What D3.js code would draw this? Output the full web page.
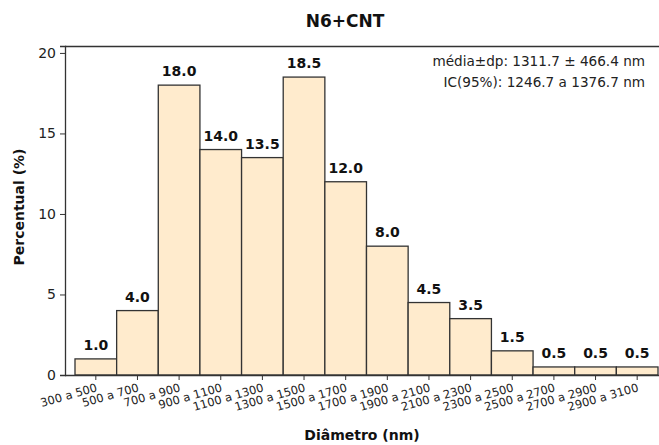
<!DOCTYPE html>
<html>
<head>
<meta charset="utf-8">
<script src="https://cdn.jsdelivr.net/npm/d3@7"></script>
<style>
  html, body { margin: 0; padding: 0; background: #fff; }
  svg { display: block; font-family: Tahoma, "DejaVu Sans", Verdana, sans-serif; }
</style>
</head>
<body>
<svg id="chart" width="659" height="445"></svg>
<script>
// Diameter classes (nm) and share of fibres in each class (%)
const categories = ["300 a 500", "500 a 700", "700 a 900", "900 a 1100", "1100 a 1300",
  "1300 a 1500", "1500 a 1700", "1700 a 1900", "1900 a 2100", "2100 a 2300",
  "2300 a 2500", "2500 a 2700", "2700 a 2900", "2900 a 3100"];
const percentages = [1.0, 4.0, 18.0, 14.0, 13.5, 18.5, 12.0, 8.0, 4.5, 3.5, 1.5, 0.5, 0.5, 0.5];
const yTicks = [0, 5, 10, 15, 20];
const statsLines = ["média±dp: 1311.7 ± 466.4 nm", "IC(95%): 1246.7 a 1376.7 nm"];

const svg = d3.select("#chart");
const plot = { left: 65, right: 659, top: 46, bottom: 375 };
const FONT = "Tahoma, 'DejaVu Sans', Verdana, sans-serif";

const x = d3.scaleBand().domain(categories).range([75, 658]).padding(0);
const y = d3.scaleLinear().domain([0, 20.43]).range([plot.bottom, plot.top]);

// Title
svg.append("text")
  .attr("x", 345).attr("y", 27)
  .attr("text-anchor", "middle")
  .attr("font-size", 17).attr("font-weight", "bold").attr("fill", "#111")
  .text("N6+CNT");

// Bars
svg.append("g").selectAll("rect")
  .data(percentages)
  .join("rect")
  .attr("x", (d, i) => x(categories[i]))
  .attr("y", d => y(d))
  .attr("width", x.bandwidth())
  .attr("height", d => y(0) - y(d))
  .attr("fill", "#FFEBCD")
  .attr("stroke", "#333")
  .attr("stroke-width", 1.3);

// Value labels
svg.append("g").selectAll("text")
  .data(percentages)
  .join("text")
  .attr("x", (d, i) => x(categories[i]) + x.bandwidth() / 2)
  .attr("y", d => y(d) - 9)
  .attr("text-anchor", "middle")
  .attr("font-size", 14).attr("font-weight", "bold").attr("fill", "#111")
  .text(d => d.toFixed(1));

// Frame: top line
svg.append("line")
  .attr("x1", plot.left).attr("x2", plot.right)
  .attr("y1", plot.top + 0.5).attr("y2", plot.top + 0.5)
  .attr("stroke", "#333").attr("stroke-width", 1.3);

// Y axis
const yAxis = svg.append("g")
  .attr("transform", `translate(${plot.left},0)`)
  .call(d3.axisLeft(y).tickValues(yTicks).tickSize(5).tickPadding(4).tickFormat(d3.format("d")));
yAxis.select(".domain").attr("stroke", "#333").attr("stroke-width", 1.3);
yAxis.selectAll(".tick line").attr("stroke", "#333");
yAxis.selectAll(".tick text").attr("font-size", 14).attr("fill", "#222")
  .attr("font-family", FONT);

// X axis
const xAxis = svg.append("g")
  .attr("transform", `translate(0,${plot.bottom})`)
  .call(d3.axisBottom(x).tickSize(5).tickSizeOuter(0));
xAxis.select(".domain")
  .attr("d", `M${plot.left},0.5H${plot.right}`)
  .attr("stroke", "#333").attr("stroke-width", 1.3);
xAxis.selectAll(".tick line").attr("stroke", "#333");
xAxis.selectAll(".tick text")
  .attr("font-size", 11.5).attr("fill", "#222")
  .attr("font-family", FONT)
  .attr("text-anchor", "end")
  .attr("dy", null).attr("y", null)
  .attr("transform", "translate(2,16) rotate(-16)");

// Axis titles
svg.append("text")
  .attr("x", 362).attr("y", 440)
  .attr("text-anchor", "middle")
  .attr("font-size", 14).attr("font-weight", "bold").attr("fill", "#111")
  .text("Diâmetro (nm)");

svg.append("text")
  .attr("transform", "translate(24,207) rotate(-90)")
  .attr("text-anchor", "middle")
  .attr("font-size", 14).attr("font-weight", "bold").attr("fill", "#111")
  .text("Percentual (%)");

// Summary statistics
svg.append("g").selectAll("text")
  .data(statsLines)
  .join("text")
  .attr("x", 645)
  .attr("y", (d, i) => 66 + i * 21)
  .attr("text-anchor", "end")
  .attr("font-size", 13.6).attr("fill", "#222")
  .text(d => d);
</script>
</body>
</html>
